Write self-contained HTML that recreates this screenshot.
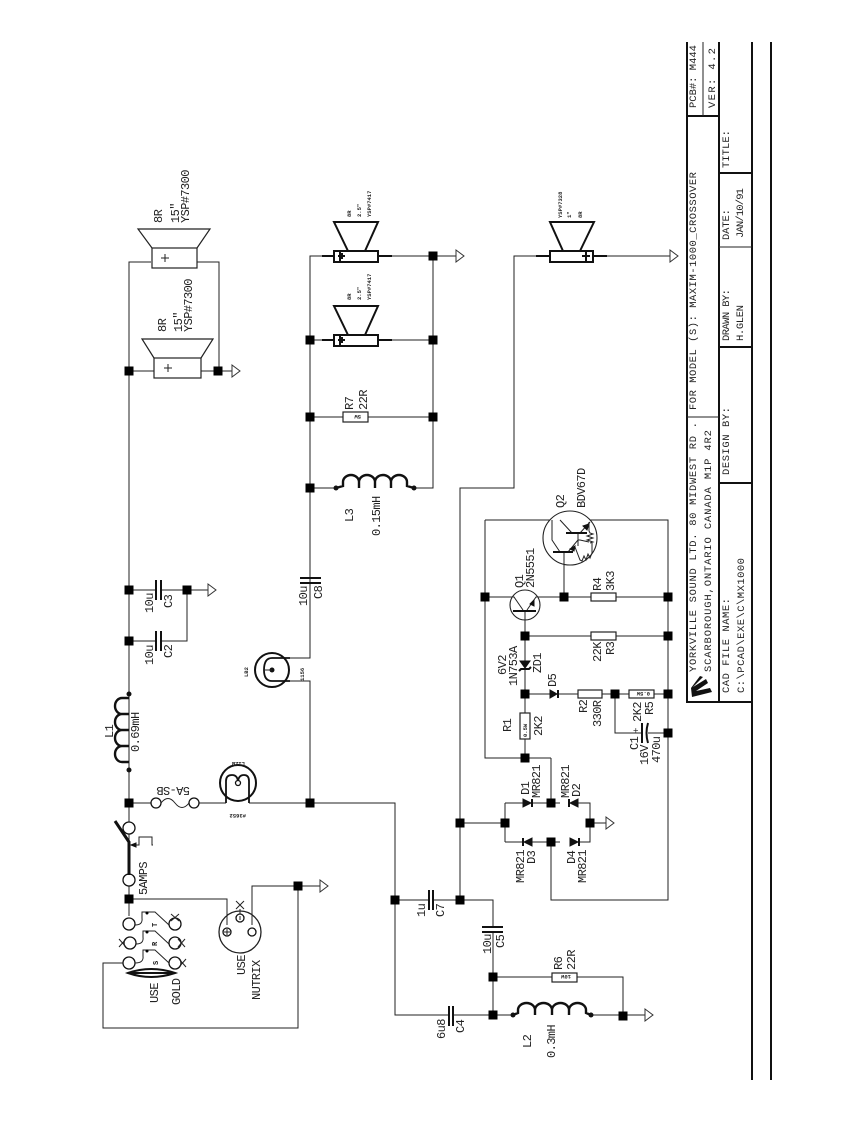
<!DOCTYPE html>
<html><head><meta charset="utf-8"><style>
html,body{margin:0;padding:0;background:#fff;width:866px;height:1122px;overflow:hidden}
svg{display:block}
text{font-family:"Liberation Mono",monospace;font-size:12px;letter-spacing:-.6px;fill:#222}
.s{font-size:5.5px;font-weight:bold;letter-spacing:0}
.w{fill:none;stroke:#222;stroke-width:1}
.b{fill:none;stroke:#111;stroke-width:2.4}
.f{fill:#111;stroke:#111;stroke-width:1}
.o{fill:#fff;stroke:#111;stroke-width:1.3}
.t{fill:none;stroke:#111;stroke-width:2}
.h text{letter-spacing:0;font-size:10.5px}
</style></head><body>
<svg width="866" height="1122" viewBox="0 0 866 1122" xmlns="http://www.w3.org/2000/svg">
<defs>
<rect id="j" x="-4.5" y="-4.5" width="9" height="9" fill="#000"/>
<path id="g" d="M0,-6L8,0L0,6Z" fill="#fff" stroke="#333" stroke-width="1"/>
</defs>

<!-- wires -->
<path class="w" d="M129,899V885M129,840V262H151M197,262H219V371M129,371H154M201,371H232M129,590H156M161,590H208M129,641H156M161,641H187V590"/>
<path class="w" d="M129,694V803H151M199,803H226M249,803H395V1015H448M453,1015H513M591,1015H645M395,900H429M433,900H493V927M493,932V1015M493,977H552M577,977H623V1015"/>
<path class="w" d="M310,803V681H290M290,658H310V256H322M392,256H456M310,340H322M392,340H433M310,417H343M368,417H433M433,256V488H414M336,488H310"/>
<path class="w" d="M460,900V488H514V256H536M607,256H670"/>
<path class="w" d="M129,899H227V925M129,899V916M123,963H103V1028H298V886H252V925M298,886H320"/>
<path class="w" d="M460,823H505M505,803V842M505,803H523M532,803H560M570,803H590V842H570M560,842H532M523,842H505M590,823H606"/>
<path class="w" d="M551,758V803M551,842V900H668V520H590M485,520H552M485,520V758H551M525,636V758M525,636V612M485,597H513M537,597H591M616,597H668M525,636H591M616,636H668M525,694H550M558,694H578M602,694H629M654,694H668M615,694V733H642M648,733H668M564,597V553"/>

<!-- junctions -->
<g>
<use href="#j" x="129" y="371"/><use href="#j" x="218" y="371"/><use href="#j" x="129" y="590"/><use href="#j" x="187" y="590"/><use href="#j" x="129" y="641"/><use href="#j" x="129" y="803"/><use href="#j" x="129" y="899"/><use href="#j" x="298" y="886"/><use href="#j" x="310" y="803"/><use href="#j" x="310" y="340"/><use href="#j" x="310" y="417"/><use href="#j" x="310" y="488"/><use href="#j" x="433" y="256"/><use href="#j" x="433" y="340"/><use href="#j" x="433" y="417"/><use href="#j" x="395" y="900"/><use href="#j" x="460" y="900"/><use href="#j" x="460" y="823"/><use href="#j" x="493" y="977"/><use href="#j" x="493" y="1015"/><use href="#j" x="623" y="1016"/><use href="#j" x="505" y="823"/><use href="#j" x="590" y="823"/><use href="#j" x="551" y="803"/><use href="#j" x="551" y="842"/><use href="#j" x="525" y="758"/><use href="#j" x="525" y="694"/><use href="#j" x="525" y="636"/><use href="#j" x="485" y="597"/><use href="#j" x="564" y="597"/><use href="#j" x="668" y="597"/><use href="#j" x="668" y="636"/><use href="#j" x="668" y="694"/><use href="#j" x="668" y="733"/><use href="#j" x="615" y="694"/>
</g>

<!-- grounds -->
<use href="#g" x="232" y="371"/><use href="#g" x="208" y="590"/><use href="#g" x="320" y="886"/><use href="#g" x="456" y="256"/><use href="#g" x="670" y="256"/><use href="#g" x="606" y="823"/><use href="#g" x="645" y="1015"/>

<!-- woofers -->
<path d="M152,248L138,229H210L197,248" fill="none" stroke="#222" stroke-width="1.2"/>
<rect x="152" y="248" width="45" height="20" fill="#fff" stroke="#222" stroke-width="1.2"/>
<path class="w" d="M161,258H169M165,254V262"/>
<path d="M154,358L142,339H213L201,358" fill="none" stroke="#222" stroke-width="1.2"/>
<rect x="154" y="358" width="47" height="20" fill="#fff" stroke="#222" stroke-width="1.2"/>
<path class="w" d="M164,368H172M168,364V372"/>

<!-- tweeters -->
<g>
<path class="t" d="M348,251L334,222H378L365,251"/><rect class="t" x="334" y="251" width="44" height="11"/><path class="t" d="M322,256H334M378,256H392M340,251V262M338,256H345M342,253V259"/>
<path class="t" d="M348,335L334,306H378L365,335"/><rect class="t" x="334" y="335" width="44" height="11"/><path class="t" d="M322,340H334M378,340H392M340,335V346M338,340H345M342,337V343"/>
<path class="t" d="M563,251L550,222H594L580,251"/><rect class="t" x="550" y="251" width="43" height="11"/><path class="t" d="M536,256H550M593,256H607M586,251V262M582,256H590"/>
</g>

<!-- caps -->
<path class="t" d="M156,580V600M161,580V600M156,631V651M161,631V651M300,578H321M300,583H321M429,890V910M433,890V910M482,927H503M482,932H503M449,1006V1026M453,1006V1026M642,723V743" stroke-width="2.3"/>
<path class="t" d="M648,723Q645,733 648,743" stroke-width="2.5"/>

<!-- inductors -->
<path class="b" d="M129,698H122A7 8 0 0 0 122,714H129M122,714A7 8 0 0 0 122,730H129M122,730A7 8 0 0 0 122,746H129M122,746A7 8 0 0 0 122,762H129"/>
<circle cx="129" cy="694" r="2.5" fill="#111"/><circle cx="129" cy="770" r="2.5" fill="#111"/>
<path class="b" d="M336,488L343,486V482A8 7 0 0 1 359,482V488M359,482A8 7 0 0 1 375,482V488M375,482A8 7 0 0 1 391,482V488M391,482A8 7 0 0 1 407,482V486L414,488"/>
<circle cx="336" cy="488" r="2.5" fill="#111"/><circle cx="414" cy="488" r="2.5" fill="#111"/>
<path class="b" d="M513,1015L518,1013V1010A8.5 7 0 0 1 535,1010V1015M535,1010A8.5 7 0 0 1 552,1010V1015M552,1010A8.5 7 0 0 1 569,1010V1015M569,1010A8.5 7 0 0 1 586,1010V1013L591,1015"/>
<circle cx="513" cy="1015" r="2.5" fill="#111"/><circle cx="591" cy="1015" r="2.5" fill="#111"/>

<!-- resistors -->
<g fill="#fff" stroke="#222" stroke-width="1.2">
<rect x="343" y="412" width="25" height="10"/><rect x="552" y="973" width="25" height="9"/><rect x="591" y="593" width="25" height="8"/><rect x="591" y="632" width="25" height="8"/><rect x="578" y="690" width="24" height="8"/><rect x="629" y="690" width="25" height="8"/><rect x="520" y="713" width="10" height="26"/>
</g>
<text class="s" transform="translate(361,415)rotate(180)">5W</text>
<text class="s" transform="translate(571,975)rotate(180)">10W</text>
<text class="s" transform="translate(650,692)rotate(180)">0.5W</text>
<text class="s" transform="translate(527,737)rotate(-90)">0.5W</text>

<!-- fuse -->
<circle class="o" cx="156" cy="803" r="5"/><circle class="o" cx="194" cy="803" r="5"/>
<path class="w" d="M161,803Q168,794 175,803T189,803" stroke-width="1.3"/>

<!-- main switch -->
<circle class="o" cx="129" cy="828" r="6"/><circle class="o" cx="129" cy="880" r="6"/>
<path d="M129,875V842L115,821" fill="none" stroke="#111" stroke-width="3"/>
<path class="w" d="M133,845H139V837H152V845H153"/><path class="f" d="M131,845L136,843V847Z"/>

<!-- gold switch -->
<g>
<circle class="o" cx="129" cy="924" r="6"/><circle class="o" cx="130" cy="943" r="6"/><circle class="o" cx="129" cy="963" r="6"/>
<circle class="o" cx="175" cy="924" r="6"/><circle class="o" cx="175" cy="943" r="6"/><circle class="o" cx="175" cy="963" r="6"/>
<path class="w" d="M135,925Q143,925 142,918V912H155L169,925M136,944Q144,944 143,937V931H155L169,944M135,963Q144,963 143,956V950H155L169,963" stroke-width="1.2"/>
<circle cx="147" cy="913" r="1.5"/><circle cx="147" cy="932" r="1.5"/><circle cx="147" cy="951" r="1.5"/>
<path class="w" d="M171,914L179,921M179,914L171,921M119,939L126,947M126,939L119,947M178,939L185,947M185,939L178,947M179,959L186,967M186,959L179,967M236,901L244,909M244,901L236,909M240,909V914"/>
</g>
<path d="M128,973Q151,965 175,973Q151,981 128,973Z" fill="none" stroke="#111" stroke-width="2"/>
<path d="M128,973H175" stroke="#111" stroke-width="2"/>
<text class="s" transform="translate(157,927)rotate(-90)" style="font-size:7px">T</text>
<text class="s" transform="translate(157,946)rotate(-90)" style="font-size:7px">R</text>
<text class="s" transform="translate(158,965)rotate(-90)" style="font-size:7px">S</text>

<!-- xlr -->
<circle cx="240" cy="932" r="21" fill="none" stroke="#222" stroke-width="1.3"/>
<circle class="o" cx="227" cy="932" r="4"/><circle class="o" cx="240" cy="918" r="4"/><circle class="o" cx="252" cy="932" r="4"/>
<path class="w" d="M224,932H230M227,929V935M240,916V920"/>

<!-- lamps -->
<circle cx="272" cy="670" r="17" fill="none" stroke="#111" stroke-width="2"/>
<path fill="none" stroke="#111" stroke-width="1.8" d="M290,658H272Q264,658 264,670Q264,681 272,681H290"/>
<circle cx="272" cy="670" r="2.5" fill="#111"/><path class="w" d="M264,670H272"/>
<circle cx="238" cy="783" r="18" fill="none" stroke="#111" stroke-width="2"/>
<path fill="none" stroke="#111" stroke-width="1.8" d="M226,803V781Q226,775 232,775Q238,775 238,783Q238,775 244,775Q249,775 249,781V803"/>
<circle cx="238" cy="783" r="2.5" fill="#fff" stroke="#111" stroke-width="1.3"/>

<!-- diodes -->
<path class="f" d="M523,799V807L531,803Z"/><path class="t" d="M532,799V807"/>
<path class="f" d="M578,799V807L570,803Z"/><path class="t" d="M569,799V807"/>
<path class="f" d="M532,838V846L524,842Z"/><path class="t" d="M523,838V846"/>
<path class="f" d="M570,838V846L578,842Z"/><path class="t" d="M579,838V846"/>
<path class="f" d="M550,690V698L557,694Z"/><path class="t" d="M558,690V698"/>
<path class="f" d="M520,661H530L525,668Z"/><path class="t" d="M519,671L521,669H529L531,667"/>

<!-- transistors -->
<circle cx="525" cy="605" r="15" fill="#fff" stroke="#222" stroke-width="1.1"/>
<path class="w" d="M513,597H514L523,610M537,597H536L527,610M525,612V620"/>
<path class="t" d="M513,611H536"/><path class="f" d="M534,600L530,604L534,606Z"/>
<circle cx="570" cy="538" r="27" fill="#fff" stroke="#222" stroke-width="1.1"/>
<path class="w" d="M564,553V565M552,520V540L560,552M560,520L572,533M568,552L578,540V533M580,533L590,522"/>
<path class="t" d="M553,552H573M566,533H587"/>
<path class="f" d="M575,546L570,549L574,551Z"/><path class="f" d="M589,524L583,526L587,530Z"/>
<path class="w" d="M578,540H580L589,542M578,540V546M589,522V531L590,533L593,534L587,536L593,538L587,540L593,542L590,543M575,547L580,560L582,561L584,556L586,560L588,554L590,558L592,553M592,553V543"/>

<!-- Schematic labels -->
<g>
<text transform="translate(162,223)rotate(-90)">8R</text>
<text transform="translate(179,223)rotate(-90)">15"</text>
<text transform="translate(189,223)rotate(-90)">YSP#7300</text>
<text transform="translate(166,332)rotate(-90)">8R</text>
<text transform="translate(182,332)rotate(-90)">15"</text>
<text transform="translate(192,332)rotate(-90)">YSP#7300</text>
<text class="s" transform="translate(351,217)rotate(-90)">8R</text>
<text class="s" transform="translate(361,217)rotate(-90)">2.5"</text>
<text class="s" transform="translate(371,217)rotate(-90)">YSP#7417</text>
<text class="s" transform="translate(351,300)rotate(-90)">8R</text>
<text class="s" transform="translate(361,300)rotate(-90)">2.5"</text>
<text class="s" transform="translate(371,300)rotate(-90)">YSP#7417</text>
<text class="s" transform="translate(562,218)rotate(-90)">YSP#7328</text>
<text class="s" transform="translate(571,218)rotate(-90)">1"</text>
<text class="s" transform="translate(582,218)rotate(-90)">8R</text>
<text transform="translate(353,410)rotate(-90)">R7</text>
<text transform="translate(367,410)rotate(-90)">22R</text>
<text transform="translate(353,522)rotate(-90)">L3</text>
<text transform="translate(380,536)rotate(-90)">0.15mH</text>
<text transform="translate(307,606)rotate(-90)">10u</text>
<text transform="translate(322,599)rotate(-90)">C8</text>
<text transform="translate(153,613)rotate(-90)">10u</text>
<text transform="translate(172,608)rotate(-90)">C3</text>
<text transform="translate(153,665)rotate(-90)">10u</text>
<text transform="translate(172,658)rotate(-90)">C2</text>
<text transform="translate(113,738)rotate(-90)">L1</text>
<text transform="translate(139,752)rotate(-90)">0.69mH</text>
<text transform="translate(190,787)rotate(180)">5A-SB</text>
<text class="s" transform="translate(246,814)rotate(180)">#3652</text>
<text class="s" transform="translate(245,762)rotate(180)">L1ZB</text>
<text class="s" transform="translate(248,677)rotate(-90)">LB2</text>
<text class="s" transform="translate(304,681)rotate(-90)">1156</text>
<text transform="translate(147,895)rotate(-90)">5AMPS</text>
<text transform="translate(158,1003)rotate(-90)">USE</text>
<text transform="translate(180,1005)rotate(-90)">GOLD</text>
<text transform="translate(245,975)rotate(-90)">USE</text>
<text transform="translate(260,1000)rotate(-90)">NUTRIX</text>
<text transform="translate(425,917)rotate(-90)">1u</text>
<text transform="translate(444,917)rotate(-90)">C7</text>
<text transform="translate(491,954)rotate(-90)">10u</text>
<text transform="translate(504,948)rotate(-90)">C5</text>
<text transform="translate(445,1039)rotate(-90)">6u8</text>
<text transform="translate(464,1033)rotate(-90)">C4</text>
<text transform="translate(562,970)rotate(-90)">R6</text>
<text transform="translate(575,970)rotate(-90)">22R</text>
<text transform="translate(531,1048)rotate(-90)">L2</text>
<text transform="translate(555,1058)rotate(-90)">0.3mH</text>
<text transform="translate(529,795)rotate(-90)">D1</text>
<text transform="translate(540,798)rotate(-90)">MR821</text>
<text transform="translate(569,798)rotate(-90)">MR821</text>
<text transform="translate(580,797)rotate(-90)">D2</text>
<text transform="translate(524,883)rotate(-90)">MR821</text>
<text transform="translate(535,864)rotate(-90)">D3</text>
<text transform="translate(575,864)rotate(-90)">D4</text>
<text transform="translate(586,883)rotate(-90)">MR821</text>
<text transform="translate(564,508)rotate(-90)">Q2</text>
<text transform="translate(585,508)rotate(-90)">BDV67D</text>
<text transform="translate(523,588)rotate(-90)">Q1</text>
<text transform="translate(534,588)rotate(-90)">2N5551</text>
<text transform="translate(601,591)rotate(-90)">R4</text>
<text transform="translate(614,591)rotate(-90)">3K3</text>
<text transform="translate(601,662)rotate(-90)">22K</text>
<text transform="translate(614,655)rotate(-90)">R3</text>
<text transform="translate(506,675)rotate(-90)">6V2</text>
<text transform="translate(517,686)rotate(-90)">1N753A</text>
<text transform="translate(541,673)rotate(-90)">ZD1</text>
<text transform="translate(556,687)rotate(-90)">D5</text>
<text transform="translate(587,713)rotate(-90)">R2</text>
<text transform="translate(601,727)rotate(-90)">330R</text>
<text transform="translate(641,722)rotate(-90)">2K2</text>
<text transform="translate(653,715)rotate(-90)">R5</text>
<text transform="translate(511,732)rotate(-90)">R1</text>
<text transform="translate(542,736)rotate(-90)">2K2</text>
<text transform="translate(638,750)rotate(-90)">C1</text>
<text transform="translate(639,733)rotate(-90)" style="font-size:9px">+</text>
<text transform="translate(648,765)rotate(-90)">16V</text>
<text transform="translate(660,763)rotate(-90)">470u</text>
</g>

<!-- Title block -->
<path fill="none" stroke="#111" stroke-width="2" d="M687,42V702H752M719,42V702M752,42V1080M771,42V1080M687,116H719M719,173H752M719,347H752M719,483H752"/>
<path fill="none" stroke="#222" stroke-width="1" d="M703,42V116M687,417H719M719,247H752"/>
<g class="h">
<text transform="translate(696,108)rotate(-90)" textLength="63">PCB#: M444</text>
<text transform="translate(715,108)rotate(-90)" textLength="60">VER: 4.2</text>
<text transform="translate(729,168)rotate(-90)" textLength="38">TITLE:</text>
<text transform="translate(729,240)rotate(-90)" textLength="31">DATE:</text>
<text transform="translate(743,238)rotate(-90)" textLength="50">JAN/10/91</text>
<text transform="translate(729,341)rotate(-90)" textLength="52">DRAWN BY:</text>
<text transform="translate(743,341)rotate(-90)" textLength="36">H.GLEN</text>
<text transform="translate(729,475)rotate(-90)" textLength="68">DESIGN BY:</text>
<text transform="translate(729,693)rotate(-90)" textLength="95">CAD FILE NAME:</text>
<text transform="translate(744,693)rotate(-90)" textLength="135">C:\PCAD\EXE\C\MX1000</text>
<text transform="translate(696,672)rotate(-90)" textLength="250">YORKVILLE SOUND LTD.  80 MIDWEST RD .</text>
<text transform="translate(711,672)rotate(-90)" textLength="242">SCARBOROUGH,ONTARIO  CANADA M1P 4R2</text>
<text transform="translate(696,410)rotate(-90)" textLength="238">FOR MODEL (S): MAXIM-1000_CROSSOVER</text>
</g>
<path fill="#111" d="M692,697L712,692L710,688L696,691L708,683L706,679L693,687L703,677L700,676L691,688Z"/>
</svg>
</body></html>
